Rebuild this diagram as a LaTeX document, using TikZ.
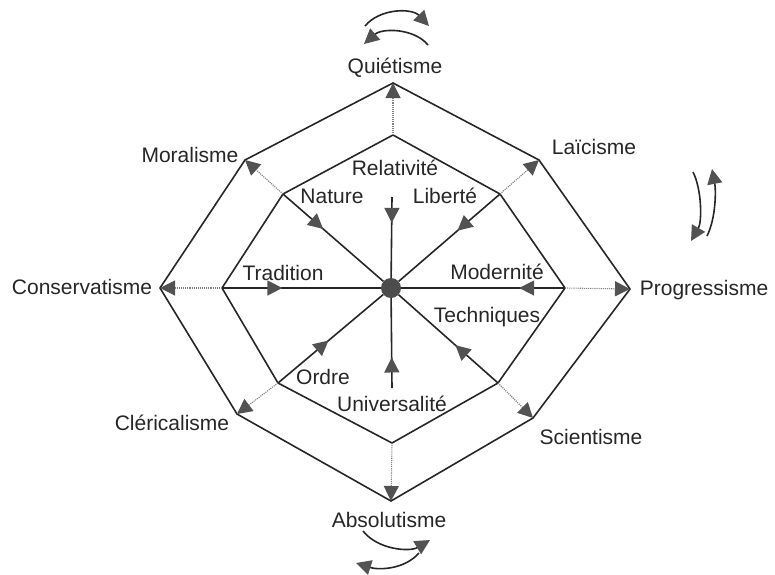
\documentclass[tikz,border=0pt]{standalone}
\usepackage{fontspec}
\setmainfont{Liberation Sans}
\usetikzlibrary{arrows.meta,decorations.markings}

\tikzset{
  wedge/.tip={Triangle[length=15pt,width=15pt,color=black!68,fill=black!68]},
}

\begin{document}
\begin{tikzpicture}[
  x=1pt, y=-1pt,
  every node/.style={font=\fontsize{21}{24}\selectfont, inner sep=1pt, text=black!85},
  frame/.style={draw=black!85, line width=1.6pt, line join=miter},
  spoke/.style={draw=black!85, line width=1.6pt, postaction={decorate},
    decoration={markings, mark=at position #1 with {\arrow{wedge}}}},
  spoke/.default=0.4,
  link/.style={draw=black!50, densely dotted, line width=1.1pt, -{wedge}},
  swing/.style={draw=black!85, line width=1.6pt, -{wedge}}
]
\useasboundingbox (0,0) rectangle (775,574);

% outer octagon
\coordinate (ot)  at (393,83);
\coordinate (otr) at (539,160);
\coordinate (or)  at (630,289);
\coordinate (obr) at (533,418);
\coordinate (ob)  at (391,501);
\coordinate (obl) at (237,414);
\coordinate (ol)  at (160,288);
\coordinate (otl) at (245,160);
% inner octagon
\coordinate (it)  at (393,135);
\coordinate (itr) at (500,194);
\coordinate (ir)  at (565,288);
\coordinate (ibr) at (498,383);
\coordinate (ib)  at (392,443);
\coordinate (ibl) at (278,383);
\coordinate (il)  at (222,288);
\coordinate (itl) at (283,194);
% ends of the vertical spokes
\coordinate (st) at (392,197);
\coordinate (sb) at (392,388);

\node[circle, fill=black!70, minimum size=20pt, inner sep=0pt] (c) at (391,288) {};

\draw[frame] (ot) -- (otr) -- (or) -- (obr) -- (ob) -- (obl) -- (ol) -- (otl) -- cycle;
\draw[frame] (it) -- (itr) -- (ir) -- (ibr) -- (ib) -- (ibl) -- (il) -- (itl) -- cycle;

% spokes
\draw[spoke=0.32] (st) -- (c);
\draw[spoke=0.34] (sb) -- (c);
\draw[spoke=0.4] (itl) -- (c);
\draw[spoke=0.42] (itr) -- (c);
\draw[spoke=0.38] (il) -- (c);
\draw[spoke=0.28] (ir) -- (c);
\draw[spoke=0.48] (ibl) -- (c);
\draw[spoke=0.43] (ibr) -- (c);

% dotted links
\draw[link] (it) -- (ot);
\draw[link] (itr) -- (otr);
\draw[link] (ir) -- (or);
\draw[link] (ibr) -- (obr);
\draw[link] (ib) -- (ob);
\draw[link] (ibl) -- (obl);
\draw[link] (il) -- (ol);
\draw[link] (itl) -- (otl);

% outer labels
\node (quie) at (395,68)  {Quiétisme};
\node (laic) at (594,147) {Laïcisme};
\node (prog) at (704,290) {Progressisme};
\node (scie) at (591,437) {Scientisme};
\node (abso) at (389,520) {Absolutisme};
\node (cler) at (172,423) {Cléricalisme};
\node (cons) at (82,287)  {Conservatisme};
\node (mora) at (190,155) {Moralisme};

% inner labels
\node (rela) at (395,168) {Relativité};
\node (natu) at (332,196) {Nature};
\node (libe) at (445,196) {Liberté};
\node (trad) at (283,273) {Tradition};
\node (mode) at (497,272) {Modernité};
\node (tech) at (487,317) {Techniques};
\node (ordr) at (323,377) {Ordre};
\node (univ) at (392,404) {Universalité};

% swinging arrows
\coordinate (ta1) at (365,26);  \coordinate (ta2) at (429,26);
\coordinate (tb1) at (428,45);  \coordinate (tb2) at (364,44);
\draw[swing] (ta1) .. controls (380,8) and (412,8) .. (ta2);
\draw[swing] (tb1) .. controls (414,28) and (382,28) .. (tb2);

\coordinate (ra1) at (693,172); \coordinate (ra2) at (691,241);
\coordinate (rb1) at (707,236); \coordinate (rb2) at (712,169);
\draw[swing] (ra1) .. controls (702,190) and (702,222) .. (ra2);
\draw[swing] (rb1) .. controls (716,218) and (716,190) .. (rb2);

\coordinate (ba1) at (363,531); \coordinate (ba2) at (430,540);
\coordinate (bb1) at (419,553); \coordinate (bb2) at (356,563);
\draw[swing] (ba1) .. controls (378,550) and (410,552) .. (ba2);
\draw[swing] (bb1) .. controls (404,570) and (378,570) .. (bb2);
\end{tikzpicture}
\end{document}
